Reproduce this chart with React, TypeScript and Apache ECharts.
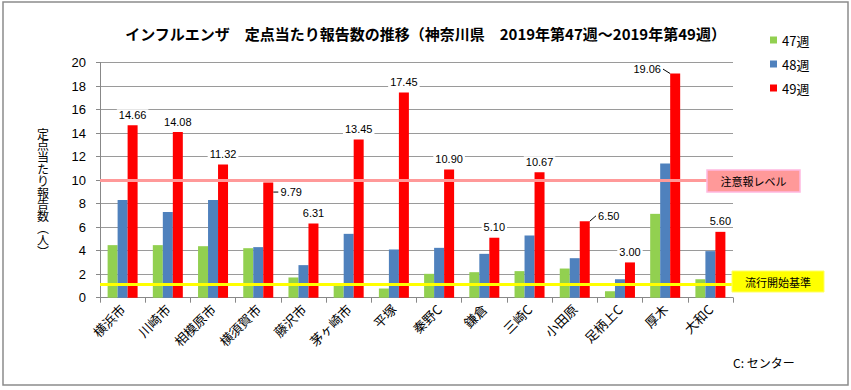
import React, { useEffect, useRef } from "react";
import * as echarts from "echarts";

const categories = ["横浜市", "川崎市", "相模原市", "横須賀市", "藤沢市", "茅ヶ崎市", "平塚", "秦野C", "鎌倉", "三崎C", "小田原", "足柄上C", "厚木", "大和C"];
const week47 = [4.47, 4.47, 4.38, 4.21, 1.72, 1.05, 0.78, 2.03, 2.17, 2.26, 2.48, 0.55, 7.13, 1.57];
const week48 = [8.3, 7.28, 8.3, 4.3, 2.77, 5.43, 4.1, 4.24, 3.73, 5.29, 3.36, 1.57, 11.42, 3.96];
const week49 = [14.66, 14.08, 11.32, 9.79, 6.31, 13.45, 17.45, 10.9, 5.1, 10.67, 6.5, 3.0, 19.06, 5.6];
const seriesNames = ["47週", "48週", "49週"];
const alertLevel = 10;
const epidemicLevel = 1.14;
const yTicks = { min: 0, max: 20, interval: 2 };
const yAxisTitle = "定\n点\n当\nた\nり\n報\n告\n数\n︵\n人\n︶";

const FONT = "'Liberation Sans', 'Noto Sans CJK JP', sans-serif";
const JP = "'Noto Sans CJK JP', sans-serif";

export default function App() {
  const ref = useRef<HTMLDivElement>(null);
  useEffect(() => {
    if (!ref.current) return;
    const chart = echarts.init(ref.current, null, { renderer: "svg" });
    const moved: Record<number, { dx: number; dy: number }> = {
      3: { dx: 23, dy: 20 },
      10: { dx: 24, dy: 5 },
      12: { dx: -28, dy: 6 },
    };
    const colors = ["#92D050", "#4F81BD", "#FF0000"];
    const datasets = [week47, week48, week49];
    chart.setOption({
      animation: false,
      backgroundColor: "#fff",
      title: {
        text: "インフルエンザ　定点当たり報告数の推移（神奈川県　2019年第47週～2019年第49週）",
        left: "center",
        top: 21,
        textStyle: { fontFamily: JP, fontSize: 15, fontWeight: "bold", color: "#000" },
      },
      legend: {
        orient: "vertical",
        left: 765,
        top: 28,
        itemWidth: 7,
        itemHeight: 7,
        itemGap: 10,
        icon: "rect",
        data: seriesNames,
        textStyle: { fontFamily: JP, fontSize: 13, color: "#000", lineHeight: 14 },
      },
      grid: { left: 100, right: 118, top: 62.5, bottom: 92.3, containLabel: false },
      xAxis: {
        type: "category",
        data: categories,
        boundaryGap: true,
        axisLine: { lineStyle: { color: "#888" } },
        axisTick: { show: true, interval: 0, length: 5, lineStyle: { color: "#888" } },
        axisLabel: { interval: 0, rotate: 45, fontSize: 13, fontFamily: JP, color: "#000", margin: 9 },
      },
      yAxis: {
        type: "value",
        min: yTicks.min,
        max: yTicks.max,
        interval: yTicks.interval,
        axisLine: { show: true, lineStyle: { color: "#888" } },
        axisTick: { show: true, length: 4, lineStyle: { color: "#888" } },
        axisLabel: { fontSize: 13, fontFamily: FONT, color: "#000", margin: 14 },
        splitLine: { lineStyle: { color: "#9a9a9a" } },
      },
      series: datasets.map((d, si) => ({
        name: seriesNames[si],
        type: "bar",
        data:
          si === 2
            ? d.map((v, i) => (moved[i] ? { value: v, labelLine: { show: true } } : { value: v, labelLine: { show: false } }))
            : d,
        barWidth: 10,
        barGap: "0%",
        itemStyle: { color: colors[si] },
        label:
          si === 2
            ? {
                show: true,
                position: "top",
                distance: 5,
                formatter: (p: any) => Number(p.value).toFixed(2),
                fontSize: 11,
                fontFamily: FONT,
                color: "#000",
                backgroundColor: "#fff",
                padding: [0, 2],
              }
            : { show: false },
        labelLayout:
          si === 2
            ? (p: any) => {
                const m = moved[p.dataIndex];
                return m ? { dx: m.dx, dy: m.dy } : {};
              }
            : undefined,
        labelLine: si === 2 ? { show: false, lineStyle: { color: "#000", width: 1 } } : undefined,
        markLine:
          si === 2
            ? {
                silent: true,
                symbol: "none",
                label: { show: false },
                data: [
                  { yAxis: alertLevel, lineStyle: { color: "#FF9999", width: 3, type: "solid" } },
                  { yAxis: epidemicLevel, lineStyle: { color: "#FFFF00", width: 3, type: "solid" } },
                ],
              }
            : undefined,
      })),
      graphic: [
        {
          type: "rect",
          shape: { x: 3, y: 2, width: 845, height: 383 },
          style: { fill: "none", stroke: "#8c8c8c", lineWidth: 1.5 },
          z: -1,
        },
        {
          type: "text",
          x: 43,
          y: 192,
          style: {
            text: yAxisTitle,
            fontSize: 12,
            lineHeight: 11.8,
            fontFamily: JP,
            fill: "#000",
            align: "center",
            verticalAlign: "middle",
          },
        },
        {
          type: "rect",
          shape: { x: 707, y: 170, width: 93, height: 22 },
          style: { fill: "#FF9999", stroke: "#FFB8E0", lineWidth: 1.5 },
          z: 10,
        },
        {
          type: "text",
          x: 753.5,
          y: 181,
          z: 11,
          style: { text: "注意報レベル", fontSize: 11, fontFamily: JP, fill: "#000", align: "center", verticalAlign: "middle" },
        },
        {
          type: "rect",
          shape: { x: 732, y: 271, width: 92, height: 21 },
          style: { fill: "#FFFF00", stroke: "#FFFF66", lineWidth: 1 },
          z: 10,
        },
        {
          type: "text",
          x: 778,
          y: 281.5,
          z: 11,
          style: { text: "流行開始基準", fontSize: 11, fontFamily: JP, fill: "#000", align: "center", verticalAlign: "middle" },
        },
        {
          type: "text",
          x: 733,
          y: 362,
          style: { text: "C: センター", fontSize: 12, fontFamily: JP, fill: "#000", align: "left", verticalAlign: "middle" },
        },
      ],
    });
    return () => chart.dispose();
  }, []);
  return <div ref={ref} style={{ position: "fixed", left: 0, top: 0, width: 851, height: 390 }} />;
}
